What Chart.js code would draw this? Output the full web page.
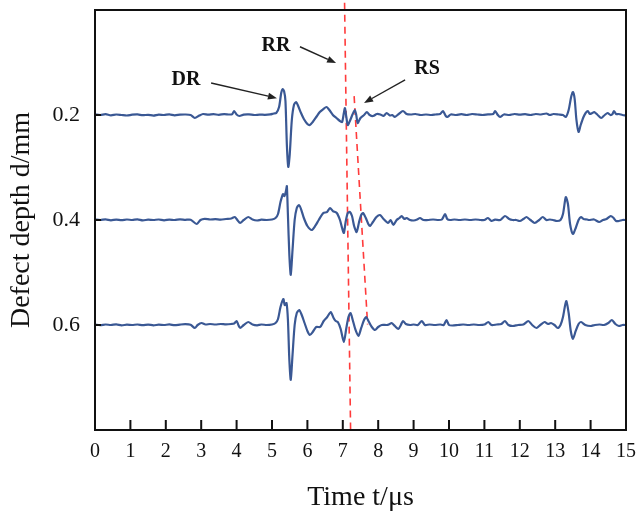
<!DOCTYPE html>
<html>
<head>
<meta charset="utf-8">
<script src="https://cdn.jsdelivr.net/npm/chart.js@4/dist/chart.umd.min.js"></script>
<style>
  html, body { margin: 0; padding: 0; background: #fff; }
  #wrap { width: 638px; height: 519px; }
</style>
</head>
<body>
<div id="wrap"><canvas id="myChart" width="638" height="519"></canvas></div>
<script>
// setup
const depths = [0.2, 0.4, 0.6];
const xTicks = [0, 1, 2, 3, 4, 5, 6, 7, 8, 9, 10, 11, 12, 13, 14, 15];
const ampScale = 0.0019; // signal units -> mm offset on the depth axis

// d = 0.2 mm
const t1 = [0, 0.15, 0.3, 0.45, 0.6, 0.75, 0.9, 1.05, 1.2, 1.35, 1.5, 1.65, 1.8, 1.95, 2.1, 2.25, 2.4, 2.55, 2.7, 2.82, 2.95, 3.05, 3.2, 3.35, 3.5, 3.65, 3.8, 3.88, 3.93, 4.0, 4.08, 4.2, 4.35, 4.5, 4.65, 4.8, 4.95, 5.05, 5.12, 5.2, 5.26, 5.3, 5.34, 5.38, 5.42, 5.46, 5.5, 5.56, 5.62, 5.68, 5.74, 5.82, 5.9, 6.0, 6.07, 6.15, 6.25, 6.35, 6.45, 6.54, 6.62, 6.72, 6.82, 6.92, 6.98, 7.03, 7.06, 7.1, 7.14, 7.2, 7.28, 7.34, 7.38, 7.42, 7.5, 7.6, 7.68, 7.76, 7.86, 7.96, 8.06, 8.15, 8.24, 8.33, 8.4, 8.47, 8.58, 8.7, 8.8, 8.92, 9.05, 9.2, 9.35, 9.5, 9.62, 9.75, 9.83, 9.9, 9.95, 10.05, 10.2, 10.35, 10.5, 10.65, 10.8, 10.95, 11.1, 11.25, 11.3, 11.38, 11.44, 11.55, 11.7, 11.85, 12.0, 12.15, 12.3, 12.45, 12.6, 12.75, 12.85, 12.95, 13.1, 13.22, 13.3, 13.38, 13.45, 13.5, 13.55, 13.6, 13.66, 13.72, 13.8, 13.86, 13.92, 13.98, 14.05, 14.1, 14.2, 14.3, 14.4, 14.48, 14.56, 14.62, 14.66, 14.72, 14.8, 14.9, 15];
const s1 = [0.5, 0, 0.8, -0.3, 0.5, 0, -0.5, 0.3, 0.6, -0.2, 0.2, -0.6, 0.4, 0, 0.6, -0.3, 0.3, 0.5, 0, -3, -0.5, 1, 0.3, 0.8, 0.2, 0.9, 0.5, 1, 4, 0.5, -1, 0.4, 0.6, 0, 0.4, 0.2, 0.6, 1.5, 2, 8, 22, 26, 24, 14, -30, -52, -40, -5, 10, 13, 9, 2, -4, -9, -10, -7, -2, 3, 6, 8, 5, 0, -3, -6, -7, 2, 7, -2, -10, -6, 1, 5, 0, -8, -3, 0, 3, 0, -1, 1, 0.5, -1, 2, -0.5, 0, -2, 1, 4, 1, 0.5, 1, 0, 0.5, 0, 0.5, 1, 4, -0.5, -2, 0.5, 0, 0.8, 0, 1, 0.5, 0, 0.6, 1, 4, 0, -2, 0.5, 0, 1, 0.3, 0.8, 0, 1, 0.5, 1.5, 0, 1, 0.5, 0, -2, 5, 18, 23, 16, -5, -17, -10, -2, 2, 4, 1, 2, 3, 0, -3, 0, 2, 0, 1, 4, 1, 1, 0, -0.5];

// d = 0.4 mm
const t2 = [0, 0.15, 0.3, 0.45, 0.6, 0.75, 0.9, 1.05, 1.2, 1.35, 1.5, 1.65, 1.8, 1.95, 2.1, 2.25, 2.4, 2.55, 2.7, 2.87, 2.98, 3.1, 3.25, 3.4, 3.55, 3.7, 3.85, 3.95, 4.02, 4.1, 4.2, 4.33, 4.45, 4.58, 4.7, 4.85, 5.0, 5.1, 5.17, 5.24, 5.31, 5.35, 5.4, 5.42, 5.45, 5.49, 5.53, 5.58, 5.64, 5.7, 5.76, 5.82, 5.9, 6.0, 6.12, 6.22, 6.32, 6.45, 6.55, 6.64, 6.72, 6.83, 6.92, 6.98, 7.03, 7.08, 7.14, 7.2, 7.26, 7.32, 7.39, 7.46, 7.52, 7.57, 7.65, 7.72, 7.77, 7.85, 7.95, 8.05, 8.15, 8.28, 8.35, 8.43, 8.52, 8.6, 8.66, 8.74, 8.8, 8.9, 9.0, 9.1, 9.18, 9.28, 9.4, 9.55, 9.7, 9.8, 9.89, 9.95, 10.03, 10.15, 10.3, 10.45, 10.6, 10.75, 10.9, 11.0, 11.1, 11.2, 11.3, 11.45, 11.58, 11.7, 11.8, 11.9, 12.0, 12.1, 12.19, 12.3, 12.42, 12.55, 12.65, 12.75, 12.85, 12.94, 13.05, 13.15, 13.22, 13.3, 13.36, 13.42, 13.5, 13.58, 13.66, 13.73, 13.8, 13.9, 13.96, 14.1, 14.24, 14.35, 14.45, 14.57, 14.65, 14.72, 14.8, 14.9, 15];
const s2 = [0.5, 0, 0.6, -0.3, 0.4, -0.2, 0.5, 0, 0.6, -0.4, 0.3, 0, 0.5, -0.3, 0.4, 0, 0.6, 0.2, 0.3, -4, 0, 1.2, 0.5, 0.8, 0.3, 1, 1.5, 3, 0, -3, 0, 3, 0.5, -0.5, 0.3, 0, 0.5, 2, 6, 18, 26, 24, 30, 34, 5, -35, -55, -30, 0, 12, 15, 11, 2, -6, -10, -6, 0, 7, 8, 12, 9, 7, 0, -8, -13, -2, 7, 8, 4, -6, -12, -2, 5, 7, 2, -4, -6, -2, 3, 5, 1, -3, 0, -5, 0, 2, 4, 1, 2, 0, -0.5, 0.5, 2, 0, 0, 0.5, 0, 0.5, 6, 1, 0, 0.5, 0, 0.5, 0, 0.5, 0, 0, 2, -1, 0.3, 0, 4, 1, 0, 0, -1, 1, 3, 0, -3, 0, 3, 0, 0.5, 0, -1, 0, 6, 23, 16, -4, -14, -8, 0, 3, 1, 0.5, 0, 0.5, -2, 0, 1, 4, 2, -1, -1, 0, 0];

// d = 0.6 mm
const t3 = [0, 0.15, 0.3, 0.45, 0.6, 0.75, 0.9, 1.05, 1.2, 1.35, 1.5, 1.65, 1.8, 1.95, 2.1, 2.25, 2.4, 2.55, 2.7, 2.82, 2.9, 3.01, 3.12, 3.25, 3.4, 3.55, 3.7, 3.85, 3.93, 4.0, 4.05, 4.1, 4.2, 4.33, 4.45, 4.58, 4.7, 4.85, 5.0, 5.1, 5.17, 5.24, 5.32, 5.36, 5.41, 5.45, 5.49, 5.53, 5.58, 5.64, 5.7, 5.77, 5.84, 5.92, 6.0, 6.07, 6.15, 6.25, 6.36, 6.46, 6.56, 6.66, 6.74, 6.8, 6.86, 6.94, 7.03, 7.1, 7.16, 7.22, 7.28, 7.36, 7.44, 7.52, 7.6, 7.66, 7.74, 7.82, 7.91, 8.0, 8.1, 8.24, 8.3, 8.38, 8.47, 8.57, 8.64, 8.7, 8.78, 8.9, 9.0, 9.12, 9.23, 9.32, 9.45, 9.6, 9.75, 9.85, 9.93, 10.0, 10.1, 10.25, 10.4, 10.55, 10.7, 10.85, 11.0, 11.11, 11.2, 11.35, 11.48, 11.58, 11.68, 11.8, 11.95, 12.1, 12.24, 12.35, 12.47, 12.58, 12.7, 12.8, 12.88, 12.98, 13.07, 13.15, 13.22, 13.31, 13.38, 13.44, 13.5, 13.58, 13.66, 13.73, 13.85, 14.0, 14.12, 14.25, 14.38, 14.5, 14.6, 14.7, 14.8, 14.9, 15];
const s3 = [0.5, -0.2, 0.5, 0, 0.6, -0.3, 0.3, 0, 0.5, -0.2, 0.4, -0.3, 0.3, 0, 0.6, -0.2, 0.4, 0.8, 0.2, -3, 0, 2, 0.5, 1, 0.5, 1, 0.6, 1, 1.5, 4, 0, -3, 0, 3, 0.5, -0.3, 0.5, 0, 0.5, 2, 6, 18, 26, 20, 22, 5, -35, -55, -30, 0, 12, 15, 10, 2, -6, -10, -7, -2, -2, 4, 8, 13, 7, 4, 3, -4, -17, -3, 8, 12, 5, -5, -11, -3, 5, 8, 3, -2, -5, -2, 0, 0, 0.5, 2, -1, -4, 0, 4, 1, 0, 0.5, 0, 4, 0, 0.5, 0, 0.5, 0, 5, 0, -0.5, 0, 0.5, 0, 0.5, 0, 0.5, 3, 0, 0.5, 1, 4, 0, -1, 0, 0.5, 4, 0, -3, 0, 3, 1, 2, 0, -3, 0, 8, 24, 12, -6, -14, -6, 1, 3, 0, -1, 0, 0.5, 0, 2, 5, 1, -1, 0, 0];

const times = [t1, t2, t3];
const signals = [s1, s2, s3];

// red dashed guide lines (t, d)
const rrLineT = [7.05, 7.22];
const rrLineD = [-0.014, 0.8];
const rsLineT = [7.32, 7.70];
const rsLineD = [0.164, 0.599];

// annotations
const noteText = ['DR', 'RR', 'RS'];
const noteT = [2.57, 5.11, 9.38];
const noteD = [0.133, 0.068, 0.113];
const arrowFromT = [3.28, 5.79, 8.76];
const arrowFromD = [0.139, 0.070, 0.133];
const arrowToT = [5.14, 6.81, 7.60];
const arrowToD = [0.168, 0.101, 0.177];

const serif = "'Liberation Serif', 'Times New Roman', serif";
const blue = '#3a5894';

const datasets = depths.map((d, i) => ({
  label: 'd = ' + d,
  data: times[i].map((t, k) => ({ x: t, y: d - signals[i][k] * ampScale })),
  borderColor: blue,
  borderWidth: 2.2,
  pointRadius: 0,
  tension: 0.25,
  fill: false
}));

datasets.push({
  label: 'RR',
  data: rrLineT.map((t, k) => ({ x: t, y: rrLineD[k] })),
  borderColor: '#ff3b3b',
  borderWidth: 1.6,
  borderDash: [7, 5],
  pointRadius: 0,
  clip: false
});
datasets.push({
  label: 'RS',
  data: rsLineT.map((t, k) => ({ x: t, y: rsLineD[k] })),
  borderColor: '#ff3b3b',
  borderWidth: 1.6,
  borderDash: [7, 5],
  pointRadius: 0,
  clip: false
});

// box, inward ticks, arrows and labels
const frame = {
  id: 'frame',
  afterDraw(chart) {
    const ctx = chart.ctx;
    const a = chart.chartArea;
    const xs = chart.scales.x, ys = chart.scales.y;
    ctx.save();
    ctx.strokeStyle = '#111';
    ctx.lineWidth = 2;
    ctx.strokeRect(a.left, a.top, a.right - a.left, a.bottom - a.top);
    ctx.beginPath();
    xTicks.slice(1, -1).forEach(v => {
      const px = xs.getPixelForValue(v);
      ctx.moveTo(px, a.bottom);
      ctx.lineTo(px, a.bottom - 10);
    });
    depths.forEach(v => {
      const py = ys.getPixelForValue(v);
      ctx.moveTo(a.left, py);
      ctx.lineTo(a.left + 6, py);
    });
    ctx.stroke();

    // arrows
    ctx.strokeStyle = '#222';
    ctx.fillStyle = '#222';
    ctx.lineWidth = 1.4;
    noteText.forEach((txt, i) => {
      const x0 = xs.getPixelForValue(arrowFromT[i]), y0 = ys.getPixelForValue(arrowFromD[i]);
      const x1 = xs.getPixelForValue(arrowToT[i]), y1 = ys.getPixelForValue(arrowToD[i]);
      const ang = Math.atan2(y1 - y0, x1 - x0);
      const len = 9, wid = 3.5;
      const bx = x1 - len * Math.cos(ang), by = y1 - len * Math.sin(ang);
      ctx.beginPath();
      ctx.moveTo(x0, y0);
      ctx.lineTo(bx, by);
      ctx.stroke();
      ctx.beginPath();
      ctx.moveTo(x1, y1);
      ctx.lineTo(bx + wid * Math.sin(ang), by - wid * Math.cos(ang));
      ctx.lineTo(bx - wid * Math.sin(ang), by + wid * Math.cos(ang));
      ctx.closePath();
      ctx.fill();

      ctx.font = 'bold 20px ' + serif;
      ctx.fillStyle = '#111';
      ctx.textAlign = 'center';
      ctx.textBaseline = 'middle';
      ctx.fillText(txt, xs.getPixelForValue(noteT[i]), ys.getPixelForValue(noteD[i]));
      ctx.fillStyle = '#222';
    });
    ctx.restore();
  }
};

// config
const config = {
  type: 'line',
  data: { datasets },
  options: {
    responsive: false,
    animation: false,
    layout: { padding: { left: 0, right: 12, top: 10, bottom: 0 } },
    plugins: { legend: { display: false }, tooltip: { enabled: false } },
    scales: {
      x: {
        type: 'linear',
        min: 0,
        max: 15,
        afterBuildTicks: s => { s.ticks = xTicks.map(v => ({ value: v })); },
        ticks: { font: { family: serif, size: 20 }, color: '#111', padding: 10, maxRotation: 0, autoSkip: false },
        grid: { display: false, drawTicks: false },
        border: { display: false },
        title: { display: true, text: 'Time t/μs', font: { family: serif, size: 28 }, color: '#111', padding: { top: 0, bottom: 5 } },
        afterFit: s => { s.height = 89; s.paddingLeft = 0; s.paddingRight = 0; }
      },
      y: {
        type: 'linear',
        reverse: true,
        min: 0,
        max: 0.8,
        afterBuildTicks: s => { s.ticks = depths.map(v => ({ value: v })); },
        ticks: { font: { family: serif, size: 22 }, color: '#111', padding: 15, callback: v => v.toFixed(1) },
        grid: { display: false, drawTicks: false },
        border: { display: false },
        title: { display: true, text: 'Defect depth d/mm', font: { family: serif, size: 28 }, color: '#111', padding: { top: 5, bottom: 0 } },
        afterFit: s => { s.width = 95; s.paddingTop = 0; s.paddingBottom = 0; }
      }
    }
  },
  plugins: [frame]
};

const myChart = new Chart(document.getElementById('myChart'), config);
</script>
</body>
</html>
